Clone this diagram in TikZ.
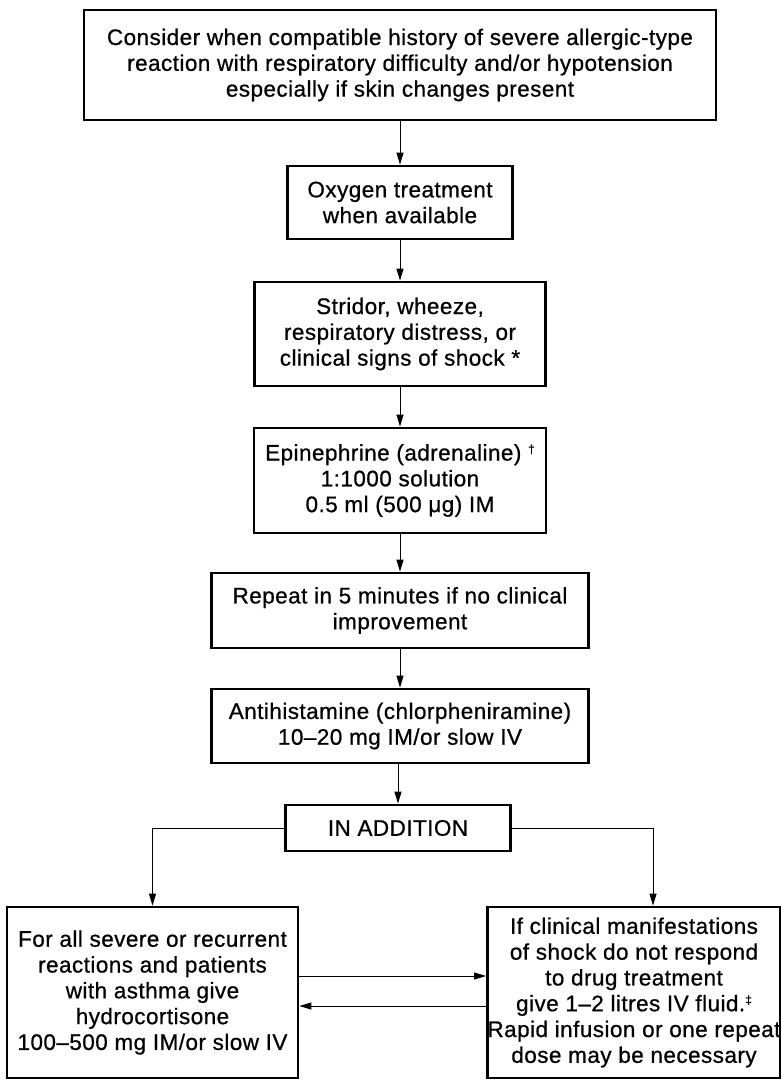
\documentclass[tikz,border=0pt]{standalone}
\usepackage{fontspec}
\setmainfont{Liberation Sans}[LetterSpace=2,FakeBold=0.7]
\usetikzlibrary{arrows.meta}
\tikzset{
  box/.style={draw, line width=2.8pt, align=center, inner sep=0pt,
    font=\fontsize{22.5}{25.8}\selectfont},
  arr/.style={line width=0.9pt, -{Triangle[length=12pt,width=7pt]}},
}
\newcommand{\supmark}[1]{\raisebox{0.6ex}{\fontsize{12}{12}\selectfont #1}}
\begin{document}
\begin{tikzpicture}[x=1pt,y=-1pt]
\useasboundingbox (0,0) rectangle (780,1080);
\node[box, minimum width=632pt, minimum height=110pt] (top) at (400,65)
  {Consider when compatible history of severe allergic-type\\reaction with respiratory difficulty and/or hypotension\\especially if skin changes present};
\node[box, minimum width=225pt, minimum height=73pt] (oxy) at (400,202.5)
  {Oxygen treatment\\when available};
\node[box, minimum width=291pt, minimum height=104pt] (stri) at (400,334)
  {Stridor, wheeze,\\respiratory distress, or\\clinical signs of shock *};
\node[box, minimum width=292pt, minimum height=105pt] (epi) at (400,480.5)
  {Epinephrine (adrenaline) \supmark{†}\\1:1000 solution\\0.5 ml (500 μg) IM};
\node[box, minimum width=377pt, minimum height=75pt] (rep) at (400,610.5)
  {Repeat in 5 minutes if no clinical\\improvement};
\node[box, minimum width=377pt, minimum height=74pt] (anti) at (400,726)
  {Antihistamine (chlorpheniramine)\\10–20 mg IM/or slow IV};
\node[box, minimum width=225pt, minimum height=46pt] (inadd) at (398,828)
  {IN ADDITION};
\node[box, minimum width=291pt, minimum height=171pt] (left) at (152.5,992.5)
  {For all severe or recurrent\\reactions and patients\\with asthma give\\hydrocortisone\\100–500 mg IM/or slow IV};
\node[box, minimum width=290pt, minimum height=171pt] (right) at (634,992.5)
  {If clinical manifestations\\of shock do not respond\\to drug treatment\\give 1–2 litres IV fluid.\supmark{‡}\\Rapid infusion or one repeat\\dose may be necessary};
\draw[arr] (top) -- (oxy);
\draw[arr] (oxy) -- (stri);
\draw[arr] (stri) -- (epi);
\draw[arr] (epi) -- (rep);
\draw[arr] (rep) -- (anti);
\draw[arr] (inadd.north |- anti.south) -- (inadd.north);
\draw[arr] (inadd.west) -| (left.north);
\draw[arr] (inadd.east) -| ([xshift=19pt]right.north);
\draw[arr] ([yshift=16.5pt]left.east) -- ([yshift=16.5pt]right.west);
\draw[arr] ([yshift=-13.5pt]right.west) -- ([yshift=-13.5pt]left.east);
\end{tikzpicture}
\end{document}
